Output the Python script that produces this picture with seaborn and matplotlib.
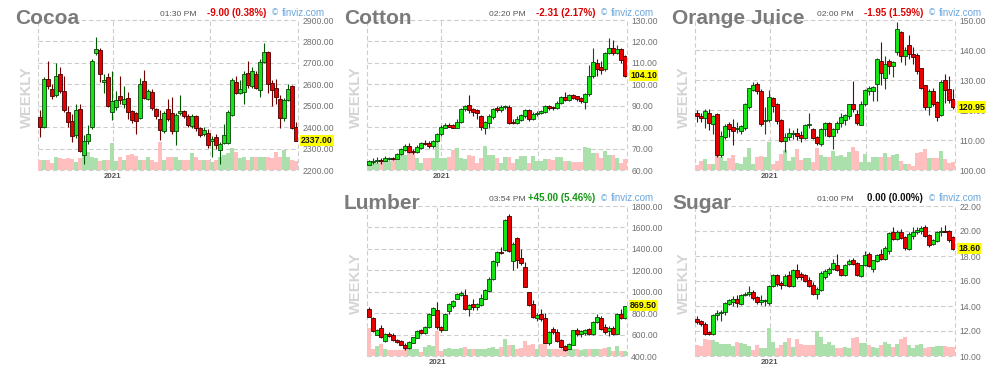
import numpy as np
import pandas as pd
import matplotlib
matplotlib.use("Agg")
import matplotlib.pyplot as plt
import matplotlib.transforms as mtransforms
import seaborn as sns

# ---------------- data (weekly OHLC + volume) ----------------
cocoa_open = [2445,2400,2625,2580,2550,2650,2570,2470,2430,2365,2485,2270,2335,2400,2745,2760,2610,2635,2470,2495,2545,2510,2535,2475,2465,2445,2615,2530,2565,2485,2440,2380,2485,2465,2380,2465,2475,2450,2405,2450,2395,2370,2375,2335,2355,2295,2325,2325,2455,2610,2560,2565,2655,2590,2650,2575,2705,2750,2605,2585,2530,2445,2525,2590,2400]
cocoa_close = [2400,2625,2590,2545,2640,2570,2480,2425,2360,2480,2290,2335,2370,2710,2765,2650,2620,2500,2520,2527,2525,2530,2470,2435,2430,2600,2535,2570,2490,2450,2385,2465,2440,2380,2455,2475,2452,2410,2450,2395,2365,2385,2315,2345,2315,2320,2365,2470,2620,2560,2580,2650,2595,2660,2585,2705,2750,2600,2575,2540,2445,2525,2580,2395,2337]
cocoa_high = [2480,2635,2710,2600,2700,2680,2640,2500,2460,2510,2510,2365,2410,2720,2820,2770,2650,2655,2660,2570,2640,2590,2565,2480,2470,2630,2665,2580,2580,2490,2480,2475,2530,2540,2465,2550,2480,2460,2460,2455,2400,2400,2390,2360,2370,2330,2415,2480,2630,2640,2620,2660,2710,2680,2660,2720,2795,2755,2620,2625,2550,2535,2600,2595,2425]
cocoa_low = [2355,2395,2580,2530,2540,2560,2470,2400,2330,2350,2285,2230,2320,2390,2735,2610,2560,2495,2435,2480,2510,2490,2440,2420,2370,2440,2530,2525,2480,2440,2340,2375,2430,2370,2315,2455,2445,2400,2395,2380,2355,2360,2305,2260,2300,2230,2320,2320,2450,2555,2555,2510,2585,2585,2580,2540,2700,2560,2500,2510,2395,2430,2520,2390,2335]
cocoa_volume = [30,30,30,20,40,35,32,35,33,25,35,45,55,40,35,28,30,30,80,28,40,30,45,48,42,30,30,40,30,25,85,30,40,40,40,30,30,30,50,40,30,30,30,25,30,40,45,50,65,55,35,38,30,38,38,38,38,38,35,55,38,60,38,30,28]

cotton_open = [62.5,63.6,64.2,64.5,64.4,65,65.6,65.2,67.5,69.5,71,68.5,68.4,70.5,72.8,72.8,71,73.5,76.8,79.8,81,81,79.7,82.5,88.5,90.2,88.5,88.2,85,79.8,82,84.8,89,88,89.2,89.5,82.5,81.8,83.5,85.3,87.8,84,86.3,86.7,87,90,89.5,89,91.2,94,92.5,94.8,94.5,93.5,91.8,95.5,104,110,108,107,114.8,116.8,114.5,116.5,113]
cotton_close = [64,64.3,64.5,64.2,65.5,65.6,65.2,67.5,70,71.3,68.5,68.3,70.8,72.5,72,71,73.5,77,80,80.8,80.3,79.8,82.5,88.6,89.7,87.8,87,86.5,80,82.5,85,88.6,88,89.5,89.8,82,82,84,85.5,88,84,86,86.8,87.5,89.8,89,89,91.2,94,92.5,95,93.5,93,92,95.5,104,110.5,107,106.5,114.8,116.8,114.5,116.3,111.2,104.1]
cotton_high = [64.5,65.5,66,65.5,66.5,66.3,66,68,70.5,72,72.5,70,71.5,73,74,73.5,74,77.5,81,82,82,81.5,84,89,90.5,95,89,88.5,85.5,83,86,89,90,90.5,90.5,90.5,84,85,86,88.5,88.5,87,87.5,88,90.5,90.5,90,92,94.5,96.5,95.5,95.5,94.5,94,96,109,117,112,111,115,121.5,120.5,118.5,117,113.5]
cotton_low = [62.3,63,63.5,63,64,64.8,64.8,65,67,69,68,67.5,68,70,71.5,70.5,70.5,73,76,79.5,80,79.5,79.5,82,87.5,86.5,85,84,78.5,77,79.5,84,87,87,88.5,81.5,81.5,81.5,83,84.5,83,83.5,85,86,86.5,88,88,88.5,91,92,92,93,92,91.5,88.5,94.5,103,104,105,106,114,113.5,114,110,103.5]
cotton_volume = [25,25,22,25,25,28,30,40,45,45,50,50,35,22,35,35,35,85,35,35,40,60,65,35,32,45,42,20,35,72,45,45,35,22,40,40,22,32,42,42,22,42,28,28,32,32,30,40,40,28,28,24,24,24,70,65,52,52,37,57,45,44,37,22,32]

oj_open = [119.1,118,117.2,118.9,115.4,118.6,105,110.9,115.4,114.3,113.8,113,114,121,126.8,128.7,126.3,116.5,116.8,124,122,116.6,109.8,111,112,112.3,111.7,110.7,115,113.8,111,108.8,113.6,115.5,111.2,113.8,115.8,116.8,118,121.9,118.5,115.1,122.1,126.4,126.3,128.6,136.3,130.6,136.2,134.6,139.3,146.1,138,141.6,138.6,138.5,133.9,128.3,121,126.2,122.5,118.5,130,127,123.5]
oj_close = [118,117.3,119.7,115.7,118,105,111.2,114.8,113.8,113,114,114.6,122.1,127.3,128.4,126.3,115.2,116.8,124.2,121.4,116.3,109.8,110.9,112.3,112.5,111.3,110.7,115,115.2,110.7,109.1,113.6,115.5,111.2,113.8,115.8,117.8,118.2,121.9,120.4,115.7,122.1,126.6,127.3,127.8,137.1,132.3,135.4,134.6,136,146.9,137.9,139.9,138.8,137.6,133.1,127.5,121,126.4,122.1,117.6,129.4,126.6,123.2,120.95]
oj_high = [120,119,120.5,120.5,118.5,119,113,115.5,116,117,116,115,122.5,127.5,129.5,129.5,127,121,126.8,124.5,122.5,117,112.5,114,113.5,114,113,115.5,119,114,111.5,114,116,116,114,116.5,119,118.6,122,129.6,120,123,127,128,128,137.5,142.6,138,137,136.5,149.3,146.5,141,145,141,139,134,128.5,127,127.5,123,130,132,131.5,127]
oj_low = [116,116,114,113.5,112,104.5,104.5,110.5,111,108.5,112.5,112,113.5,120.5,126.5,125.5,114.8,112,116,119.5,115.5,109.5,106,110,110.5,110,109.5,110.5,114,110.3,108.5,108,111.5,111,107,112.5,114.5,115,117,119.5,115,115,121.5,125,123,123,128.5,127,132,131,138.5,136,135,137,135.5,132,127,120,118.5,121.5,116.3,118,122.5,122.5,120.5]
oj_volume = [15,28,33,18,18,42,40,28,35,45,20,18,40,67,18,40,43,40,83,18,28,48,60,27,40,63,30,37,37,25,65,45,38,40,57,42,45,40,53,70,58,23,48,25,40,38,40,50,40,45,47,27,18,18,13,50,55,62,37,37,37,57,32,20,25]

lumber_open = [836,755,600,660,536,608,600,546,536,505,474,524,568,639,618,670,786,826,670,645,817,867,936,970,973,836,889,858,880,936,1004,1117,1280,1372,1388,1706,1285,1504,1316,1232,998,889,755,795,755,524,655,624,546,490,468,505,645,608,618,649,608,717,755,670,630,660,608,795,755]
lumber_close = [764,630,640,577,608,587,546,530,505,474,530,577,630,618,670,795,848,670,640,795,890,911,982,985,836,880,858,883,942,1014,1123,1285,1372,1357,1669,1379,1450,1295,1272,1045,880,764,785,742,524,624,624,536,483,458,515,640,608,630,640,608,717,764,649,624,661,608,795,755,869.5]
lumber_high = [860,760,650,690,615,620,615,555,545,520,540,580,640,650,680,800,860,900,680,800,895,920,990,1010,1030,890,930,895,980,1030,1140,1300,1380,1420,1680,1730,1460,1515,1400,1280,1000,920,800,840,800,630,670,650,555,500,520,645,660,640,655,660,730,790,770,700,680,680,800,840,870]
lumber_low = [760,625,595,570,530,575,540,525,500,455,470,520,565,610,610,665,780,650,625,640,790,850,930,960,830,775,830,825,870,930,1000,1110,1240,1350,1380,1375,1200,1220,1250,1040,870,755,730,730,520,500,610,530,475,450,462,500,590,575,600,595,600,710,640,610,590,600,605,750,750]
lumber_volume = [84,22,30,35,20,17,17,17,17,22,20,20,20,12,27,32,30,75,15,20,24,20,22,24,28,20,22,20,22,22,24,28,22,28,50,32,32,22,24,44,34,35,22,35,42,22,22,22,20,20,22,22,20,18,22,22,22,20,22,24,26,15,29,15,15]

sugar_open = [13.0,12.8,12.6,11.95,11.75,13.3,13.45,13.5,14.2,14.35,14.6,14.2,14.85,14.95,15.15,14.7,14.3,14.4,14.25,15.6,16.45,15.85,15.7,16.45,15.6,16.9,16.55,16.5,16.1,15.7,14.95,15.3,16.3,16.65,17.0,17.3,16.95,16.5,17.4,17.65,17.45,16.4,17.3,18.2,17.0,17.6,18.2,17.8,18.4,19.95,19.4,19.95,19.55,18.6,19.6,19.9,20.0,20.3,19.7,18.95,19.2,19.95,20.0,20.0,19.5]
sugar_close = [12.75,12.55,11.8,11.8,13.3,13.45,13.55,14.25,14.45,14.6,14.25,14.85,14.95,15.15,14.65,14.35,14.45,14.45,15.6,16.45,15.75,15.7,16.4,15.6,16.85,16.3,16.3,16.0,15.6,15.0,15.4,16.65,16.8,17.0,17.45,16.85,16.5,17.3,17.6,17.4,16.5,17.25,18.1,17.2,17.65,18.1,17.75,18.65,19.85,19.4,19.95,19.45,18.65,19.8,19.95,20.1,20.25,19.6,18.85,19.25,19.95,20.0,19.95,19.3,18.6]
sugar_high = [13.2,12.9,12.7,12.0,13.4,13.7,13.7,14.3,14.6,14.8,14.9,15.0,15.1,15.6,15.3,14.8,14.9,14.6,15.7,16.6,16.6,16.0,16.6,16.8,16.95,17.35,16.7,16.6,16.3,15.9,15.5,16.8,17.0,17.1,17.8,18.2,17.0,17.4,17.8,17.85,17.5,17.3,18.4,18.3,17.7,18.2,18.6,18.8,19.9,20.3,20.1,20.2,19.6,19.9,20.3,20.3,20.4,20.5,19.8,19.4,20.0,20.3,20.5,20.1,19.6]
sugar_low = [12.6,12.4,11.7,11.7,11.7,12.9,12.8,13.3,14.1,14.0,13.9,14.1,14.8,14.8,14.5,14.2,14.1,14.0,14.1,15.5,15.6,15.4,15.6,15.5,15.5,16.2,16.1,15.9,15.5,14.9,14.6,15.2,16.2,16.5,16.9,16.8,16.4,16.4,17.3,17.3,16.4,16.3,17.2,17.1,16.7,17.5,17.7,17.7,18.2,19.3,19.3,19.4,18.5,18.5,19.4,19.8,19.8,19.5,18.7,18.9,19.1,19.6,19.9,19.1,18.5]
sugar_volume = [32,30,50,48,48,42,35,35,35,30,42,38,37,30,18,32,25,25,85,42,25,32,42,55,27,50,35,32,32,32,75,58,37,42,32,25,25,28,25,55,57,38,40,32,27,25,34,42,36,27,37,52,57,32,25,32,36,23,28,28,30,30,30,28,28]

names = ["Cocoa", "Cotton", "Orange Juice", "Lumber", "Sugar"]
times = ["01:30 PM", "02:20 PM", "02:00 PM", "03:54 PM", "01:00 PM"]
changes = ["-9.00 (0.38%)", "-2.31 (2.17%)", "-1.95 (1.59%)", "+45.00 (5.46%)", "0.00 (0.00%)"]
year_label = "2021"

# ---------------- styling ----------------
sns.set_theme(style="white")
plt.rcParams['font.family'] = ['Liberation Sans', 'DejaVu Sans']

W, H = 998, 378
fig = plt.figure(figsize=(W / 100, H / 100), dpi=100)
fig.patch.set_facecolor("white")

GREEN_FILL, RED_FILL = "#14e314", "#e80000"
GREEN_EDGE, RED_EDGE = "#0d400d", "#400000"
GREEN_WICK, RED_WICK = "#005a00", "#6e0000"
VOL_UP, VOL_DN = "#abdfab", "#ffbfbf"
GRID = "#cdcdcd"
PW, PH = 260, 150


def fx(x):
    return x / W


def fy(y):
    return 1 - y / H


def panel(name, o, hi, lo, c, v, left, top, ymin, ymax, step, months,
          time_txt, change_txt, change_color):
    o, hi, lo, c, v = map(np.asarray, (o, hi, lo, c, v))
    n = len(c)
    x = np.arange(n)
    up = c >= o
    rect = [fx(left), fy(top + PH), PW / W, PH / H]

    axv = fig.add_axes(rect, zorder=1)
    ax = fig.add_axes(rect, zorder=2)
    ax.patch.set_alpha(0)
    for a in (ax, axv):
        a.set_xlim(-0.5, n - 0.5)
    ax.set_ylim(ymin, ymax)

    # volume bars (seaborn)
    vdf = pd.DataFrame({"x": x, "vol": v, "dir": np.where(up, "up", "down")})
    sns.barplot(data=vdf, x="x", y="vol", hue="dir", native_scale=True,
                palette={"up": VOL_UP, "down": VOL_DN}, dodge=False, width=1.0,
                errorbar=None, legend=False, saturation=1, linewidth=0, ax=axv)
    axv.set_xlim(-0.5, n - 0.5)
    axv.set_ylim(0, 450)
    axv.set_axis_off()

    # dashed grid, drawn under the volume bars
    ticks = np.arange(ymin, ymax + step / 2, step)
    for t in ticks:
        axv.plot([-0.5, n - 0.5], [t, t], transform=ax.transData, color=GRID,
                 lw=0.8, ls=(0, (4, 2.5)), zorder=0, clip_on=False)
    for m in [-0.5] + list(months) + [n - 0.5]:
        axv.plot([m, m], [ymin, ymax], transform=ax.transData, color=GRID,
                 lw=0.8, ls=(0, (4, 2.5)), zorder=0, clip_on=False)

    # candles
    ax.vlines(x, lo, hi, colors=np.where(up, GREEN_WICK, RED_WICK), lw=0.8, zorder=3)
    minh = (ymax - ymin) / PH * 1.0
    body = np.maximum(np.abs(c - o), minh)
    ax.bar(x, body, bottom=np.minimum(o, c), width=0.8,
           color=np.where(up, GREEN_FILL, RED_FILL),
           edgecolor=np.where(up, GREEN_EDGE, RED_EDGE), linewidth=0.6, zorder=4)

    for s in ax.spines.values():
        s.set_visible(False)
    ax.grid(False)
    ax.yaxis.tick_right()
    ax.set_yticks(ticks)
    ax.set_yticklabels([f"{t:.2f}" for t in ticks])
    ax.tick_params(axis="y", length=0, pad=3, labelsize=6.2, labelcolor="#707070")
    ax.set_xticks([months[0]])
    ax.set_xticklabels([year_label])
    ax.tick_params(axis="x", length=0, pad=2.5, labelsize=5.7, labelcolor="#555555")
    for lab in ax.get_xticklabels():
        lab.set_fontweight("bold")

    # last price tag
    tr = mtransforms.blended_transform_factory(ax.transAxes, ax.transData)
    ax.text(1 + 3 / PW, c[-1], f"{c[-1]:.2f}", transform=tr, ha="left", va="center",
            fontsize=6.3, fontweight="bold", color="#111111", zorder=10, clip_on=False,
            bbox=dict(facecolor="#ffff00", edgecolor="none", pad=0.9))

    # header texts
    fig.text(fx(left - 23), fy(top + 3.5), name, fontsize=15, fontweight="bold",
             color="#7b7b7b", ha="left", va="baseline")
    fig.text(fx(left + 122), fy(top - 4.5), time_txt, fontsize=6.1,
             color="#555555", ha="left", va="baseline")
    fig.text(fx(left + 228), fy(top - 4.5), change_txt, fontsize=7, fontweight="bold",
             color=change_color, ha="right", va="baseline")
    fig.text(fx(left + 233), fy(top - 4.5), "©", fontsize=6, color="#6aa6dc",
             ha="left", va="baseline", family=["DejaVu Sans"])
    fig.text(fx(left + 244), fy(top - 4.5), "finviz.com", fontsize=7,
             color="#6aa6dc", ha="left", va="baseline")
    fig.text(fx(left - 11), fy(top + 77), "WEEKLY", rotation=90, fontsize=10.6,
             fontweight="bold", color="#d4d4d4", ha="center", va="center")


RED_TXT, GREEN_TXT, BLACK_TXT = "#dd0000", "#129612", "#111111"

panel(names[0], cocoa_open, cocoa_high, cocoa_low, cocoa_close, cocoa_volume,
      38, 20, 2200, 2900, 100, [18.25, 42.5], times[0], changes[0], RED_TXT)
panel(names[1], cotton_open, cotton_high, cotton_low, cotton_close, cotton_volume,
      367, 20, 60, 130, 10, [18.1, 42.25], times[1], changes[1], RED_TXT)
panel(names[2], oj_open, oj_high, oj_low, oj_close, oj_volume,
      695, 20, 100, 150, 10, [18.25, 42.25], times[2], changes[2], RED_TXT)
panel(names[3], lumber_open, lumber_high, lumber_low, lumber_close, lumber_volume,
      367, 206, 400, 1800, 200, [17.1, 42.25], times[3], changes[3], GREEN_TXT)
panel(names[4], sugar_open, sugar_high, sugar_low, sugar_close, sugar_volume,
      695, 206, 10, 22, 2, [18.25, 42.25], times[4], changes[4], BLACK_TXT)

fig.savefig("out.png", dpi=100, facecolor="white")
